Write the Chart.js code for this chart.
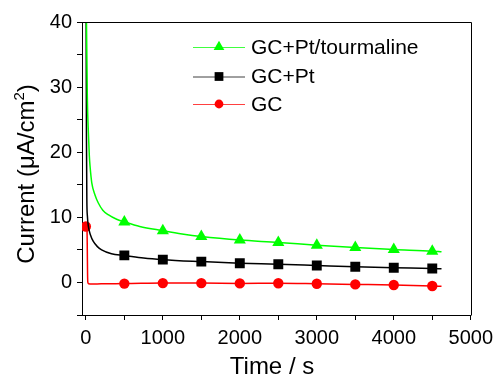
<!DOCTYPE html>
<html>
<head>
<meta charset="utf-8">
<script src="https://cdn.jsdelivr.net/npm/chart.js@4/dist/chart.umd.min.js"></script>
<style>
html,body{margin:0;padding:0;background:#fff;}
#wrap{width:499px;height:377px;position:relative;}
</style>
</head>
<body>
<div id="wrap"><canvas id="c"></canvas></div>
<script>
// ---- data ----
const seriesNames = ['GC+Pt/tourmaline', 'GC+Pt', 'GC'];

const greenT = [0, 8, 20, 33, 45, 55, 77, 120, 162, 220, 290, 400, 500, 700, 1000, 1250, 1500, 2000, 2500, 3000, 3500, 4000, 4500, 4620];
const greenI = [60, 40, 28, 23, 19.5, 17.8, 15.3, 13.4, 12.2, 11.1, 10.4, 9.7, 9.3, 8.6, 7.95, 7.45, 7.05, 6.5, 6.15, 5.7, 5.35, 5.05, 4.8, 4.7];

const blackT = [0, 4, 8, 13, 20, 33, 60, 97, 150, 205, 333, 500, 750, 1000, 1500, 2000, 2500, 3000, 3500, 4000, 4500, 4620];
const blackI = [60, 40, 22, 12.7, 10.2, 8.6, 7.3, 6.3, 5.5, 5.0, 4.4, 4.15, 3.75, 3.5, 3.2, 2.95, 2.8, 2.6, 2.4, 2.25, 2.15, 2.1];

const redT = [0, 15, 19, 22, 26, 35, 80, 200, 500, 1000, 1500, 2000, 2500, 3000, 3500, 4000, 4500, 4620];
const redI = [8.6, 8.0, 5.0, 1.5, 0.0, -0.2, -0.25, -0.2, -0.18, -0.1, -0.1, -0.15, -0.12, -0.2, -0.3, -0.4, -0.55, -0.6];

const markerTimes = [0, 500, 1000, 1500, 2000, 2500, 3000, 3500, 4000, 4500];
const xTickValues = [0, 500, 1000, 1500, 2000, 2500, 3000, 3500, 4000, 4500, 5000];
const xTickLabels = [0, 1000, 2000, 3000, 4000, 5000];
const yTickValues = [-5, 0, 5, 10, 15, 20, 25, 30, 35, 40];
const yTickLabels = [0, 10, 20, 30, 40];

const xTitle = 'Time / s';
const yTitleMain = 'Current (\u03bcA/cm';
const yTitleSup = '2';
const yTitleEnd = ')';

// ---- chart ----
const FONT = "'Liberation Sans', Arial, sans-serif";
Chart.defaults.font.family = FONT;
Chart.defaults.color = '#000';

function pts(t, v) { return t.map((x, i) => ({x: x, y: v[i]})); }

const colors = ['#00ff00', '#000000', '#ff0000'];
const styles = ['triangle', 'rect', 'circle'];
const radii = [7, 7, 5.2];

function makeDs(i, t, v) {
  return {
    label: seriesNames[i],
    data: pts(t, v),
    borderColor: colors[i],
    backgroundColor: colors[i],
    borderWidth: 1.5,
    cubicInterpolationMode: 'monotone',
    pointStyle: styles[i],
    pointRadius: ctx => (ctx.raw && markerTimes.includes(ctx.raw.x)) ? radii[i] : 0,
    pointHoverRadius: 0,
    pointBorderWidth: 0,
    clip: 0
  };
}

const frameLegendTitles = {
  id: 'frameLegendTitles',
  afterDraw(chart) {
    const {ctx, chartArea: a} = chart;
    ctx.save();
    ctx.strokeStyle = '#000';
    ctx.lineWidth = 1;
    ctx.beginPath();
    ctx.moveTo(Math.round(a.left) + 0.5, Math.round(a.top) + 0.5);
    ctx.lineTo(Math.round(a.right) + 0.5, Math.round(a.top) + 0.5);
    ctx.lineTo(Math.round(a.right) + 0.5, Math.round(a.bottom) + 0.5);
    ctx.stroke();

    // legend
    const x0 = 193, x1 = 245, xm = 219, xt = 251;
    const rows = [47, 76.5, 104];
    ctx.font = "21px " + FONT;
    ctx.textBaseline = 'middle';
    ctx.textAlign = 'left';
    chart.data.datasets.forEach((ds, i) => {
      const y = rows[i];
      ctx.strokeStyle = ds.borderColor;
      ctx.globalAlpha = 0.75;
      ctx.lineWidth = 1;
      ctx.beginPath();
      ctx.moveTo(x0, y + 0.5); ctx.lineTo(x1, y + 0.5);
      ctx.stroke();
      ctx.globalAlpha = 1;
      ctx.save();
      ctx.fillStyle = ds.backgroundColor;
      ctx.strokeStyle = ds.backgroundColor;
      Chart.helpers.drawPoint(ctx, {pointStyle: ds.pointStyle, radius: radii[i] - 0.8, borderWidth: 0}, xm, y);
      ctx.restore();
      ctx.fillStyle = '#000';
      ctx.fillText(ds.label, xt, y + 1);
    });

    // x title
    ctx.fillStyle = '#000';
    ctx.font = "24px " + FONT;
    ctx.textAlign = 'center';
    ctx.textBaseline = 'alphabetic';
    ctx.fillText(xTitle, 272, 374);

    // y title with superscript
    ctx.save();
    ctx.translate(34, 174);
    ctx.rotate(-Math.PI / 2);
    ctx.textAlign = 'left';
    ctx.font = "24px " + FONT;
    const w1 = ctx.measureText(yTitleMain).width;
    ctx.font = "15px " + FONT;
    const w2 = ctx.measureText(yTitleSup).width;
    ctx.font = "24px " + FONT;
    const w3 = ctx.measureText(yTitleEnd).width;
    let x = -(w1 + w2 + w3) / 2;
    ctx.fillText(yTitleMain, x, 0);
    x += w1;
    ctx.font = "15px " + FONT;
    ctx.fillText(yTitleSup, x, -10);
    x += w2;
    ctx.font = "24px " + FONT;
    ctx.fillText(yTitleEnd, x, 0);
    ctx.restore();

    ctx.restore();
  }
};

new Chart(document.getElementById('c'), {
  type: 'line',
  data: {
    datasets: [
      makeDs(0, greenT, greenI),
      makeDs(1, blackT, blackI),
      makeDs(2, redT, redI)
    ]
  },
  options: {
    responsive: true,
    maintainAspectRatio: false,
    animation: false,
    events: [],
    layout: {padding: {top: 22, right: 23, left: 0, bottom: 0}},
    plugins: {legend: {display: false}, tooltip: {enabled: false}},
    scales: {
      x: {
        type: 'linear',
        min: -50,
        max: 5000,
        afterBuildTicks: s => { s.ticks = xTickValues.map(v => ({value: v})); },
        afterFit: s => { s.height = 62; },
        grid: {drawOnChartArea: false, drawTicks: true, tickLength: 5, tickColor: '#000'},
        border: {display: true, color: '#000', width: 1},
        ticks: {
          autoSkip: false, maxRotation: 0, padding: 6,
          font: {size: 20},
          callback: v => xTickLabels.includes(v) ? String(v) : ''
        },
        title: {display: false}
      },
      y: {
        type: 'linear',
        min: -5,
        max: 40,
        afterBuildTicks: s => { s.ticks = yTickValues.map(v => ({value: v})); },
        afterFit: s => { s.width = 82; },
        grid: {drawOnChartArea: false, drawTicks: true, tickLength: 5, tickColor: '#000'},
        border: {display: true, color: '#000', width: 1},
        ticks: {
          autoSkip: false, padding: 5,
          font: {size: 20},
          callback: v => yTickLabels.includes(v) ? String(v) : ''
        },
        title: {display: false}
      }
    }
  },
  plugins: [frameLegendTitles]
});
</script>
</body>
</html>
